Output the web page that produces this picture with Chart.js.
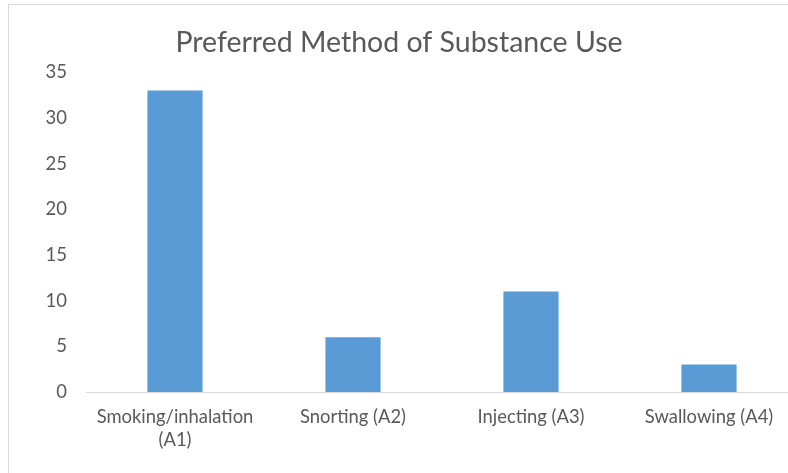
<!DOCTYPE html>
<html>
<head>
<meta charset="utf-8">
<script src="https://cdn.jsdelivr.net/npm/chart.js@4/dist/chart.umd.min.js"></script>
<style>
  html, body { margin: 0; padding: 0; background: #fff; overflow: hidden; }
  #stage { position: relative; width: 788px; height: 473px; overflow: hidden; }
  #frame { position: absolute; left: 8px; top: 4px; width: 900px; height: 700px;
           border: 1px solid #d9d9d9; box-sizing: border-box; }
  #c { position: absolute; left: 0; top: 0; }
</style>
</head>
<body>
<div id="stage">
  <div id="frame"></div>
  <canvas id="c" width="800" height="480"></canvas>
</div>
<script>
// Chart data
const chartTitle = 'Preferred Method of Substance Use';
const methods = [['Smoking/inhalation', '(A1)'], 'Snorting (A2)', 'Injecting (A3)', 'Swallowing (A4)'];
const respondents = [33, 6, 11, 3];
const yTicks = [0, 5, 10, 15, 20, 25, 30, 35];

const textColor = '#595959';
const fontFamily = 'Lato, "Open Sans", sans-serif';

new Chart(document.getElementById('c'), {
  type: 'bar',
  data: {
    labels: methods,
    datasets: [{
      data: respondents,
      backgroundColor: '#5b9bd5',
      borderWidth: 0,
      barPercentage: 0.31,
      categoryPercentage: 1.0
    }]
  },
  options: {
    responsive: false,
    animation: false,
    layout: { padding: { left: 0, right: 2, top: 0, bottom: 0 } },
    plugins: {
      legend: { display: false },
      tooltip: { enabled: false },
      title: {
        display: true,
        text: chartTitle,
        color: textColor,
        font: { family: fontFamily, size: 28.5, weight: 'normal' },
        padding: { top: 26, bottom: 12 }
      }
    },
    scales: {
      x: {
        grid: { display: false, drawTicks: false },
        border: { display: true, color: '#d9d9d9', width: 1 },
        ticks: {
          color: textColor,
          font: { family: fontFamily, size: 18.4, lineHeight: 1.25 },
          padding: 14,
          maxRotation: 0,
          autoSkip: false
        },
        afterFit: (s) => { s.height = 88; }
      },
      y: {
        min: yTicks[0],
        max: yTicks[yTicks.length - 1],
        grid: { display: false, drawTicks: false },
        border: { display: false },
        afterBuildTicks: (s) => { s.ticks = yTicks.map(v => ({ value: v })); },
        ticks: {
          color: textColor,
          font: { family: fontFamily, size: 18.5 },
          padding: 19
        },
        afterFit: (s) => { s.width = 86; }
      }
    }
  }
});
</script>
</body>
</html>
